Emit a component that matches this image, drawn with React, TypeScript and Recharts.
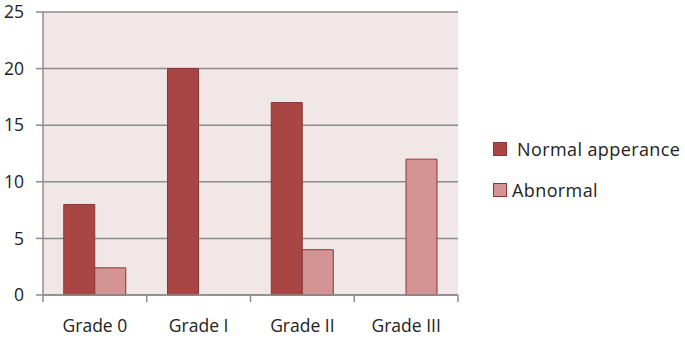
import { BarChart, Bar, XAxis, YAxis, CartesianGrid } from 'recharts'

const grades = ['Grade 0', 'Grade I', 'Grade II', 'Grade III']
const normalAppearance = [8, 20, 17, 0]
const abnormal = [2.4, 0, 4, 12]
const yTicks = [0, 5, 10, 15, 20, 25]

const data = grades.map((g, i) => ({
  grade: g,
  normal: normalAppearance[i],
  abnormal: abnormal[i],
}))

const W = 685
const H = 338
const M = { top: 12, right: 227, bottom: 0, left: 0 }
const Y_W = 43
const BAND = (W - M.left - Y_W - M.right) / grades.length
const FONT = '"Open Sans", sans-serif'
const AXIS = '#8c8c8c'
const DARK = '#a84646'
const LIGHT = '#d49494'
const EDGE = '#8a3636'

function GradeTick(props: any) {
  const { x, y, payload, index } = props
  const left = x - BAND / 2
  return (
    <g>
      <line x1={left} y1={y - 8} x2={left} y2={y - 1} stroke={AXIS} strokeWidth={1.5} />
      {index === grades.length - 1 && (
        <line x1={x + BAND / 2} y1={y - 8} x2={x + BAND / 2} y2={y - 1} stroke={AXIS} strokeWidth={1.5} />
      )}
      <text x={x} y={y + 29} textAnchor="middle" fontFamily={FONT} fontSize={17.5} fill="#222">
        {payload.value}
      </text>
    </g>
  )
}

function LegendBox() {
  const items = [
    { label: 'Normal apperance', color: DARK, gap: 10 },
    { label: 'Abnormal', color: LIGHT, gap: 5 },
  ]
  return (
    <div
      style={{
        position: 'absolute',
        left: 493,
        top: 128,
        fontFamily: FONT,
        fontSize: 18,
        letterSpacing: 0.4,
        color: '#222',
      }}
    >
      {items.map((it) => (
        <div key={it.label} style={{ display: 'flex', alignItems: 'center', height: 41 }}>
          <span
            style={{
              width: 12,
              height: 12,
              background: it.color,
              border: `1px solid ${EDGE}`,
              marginRight: it.gap,
            }}
          />
          <span style={{ whiteSpace: 'nowrap' }}>{it.label}</span>
        </div>
      ))}
    </div>
  )
}

export default function App() {
  return (
    <div style={{ position: 'absolute', left: 0, top: 0, width: W, height: H, background: '#fff', overflow: 'hidden' }}>
      <BarChart width={W} height={H} data={data} margin={M} barCategoryGap="20%" barGap={0}>
        <CartesianGrid vertical={false} stroke={AXIS} strokeWidth={1.5} fill="#f2e7e7" />
        <YAxis
          width={Y_W}
          domain={[0, 25]}
          ticks={yTicks}
          interval={0}
          tickSize={7}
          tickLine={{ stroke: AXIS, strokeWidth: 1.5 }}
          axisLine={{ stroke: AXIS, strokeWidth: 1.5 }}
          tick={{ fontFamily: FONT, fontSize: 17.5, fill: '#222' }}
          tickMargin={12}
        />
        <XAxis
          dataKey="grade"
          height={43}
          tickLine={false}
          axisLine={{ stroke: AXIS, strokeWidth: 1.5 }}
          tick={<GradeTick />}
          interval={0}
        />
        <Bar dataKey="normal" name="Normal apperance" fill={DARK} stroke={EDGE} strokeWidth={1} isAnimationActive={false} />
        <Bar dataKey="abnormal" name="Abnormal" fill={LIGHT} stroke={EDGE} strokeWidth={1} isAnimationActive={false} />
      </BarChart>
      <LegendBox />
    </div>
  )
}
